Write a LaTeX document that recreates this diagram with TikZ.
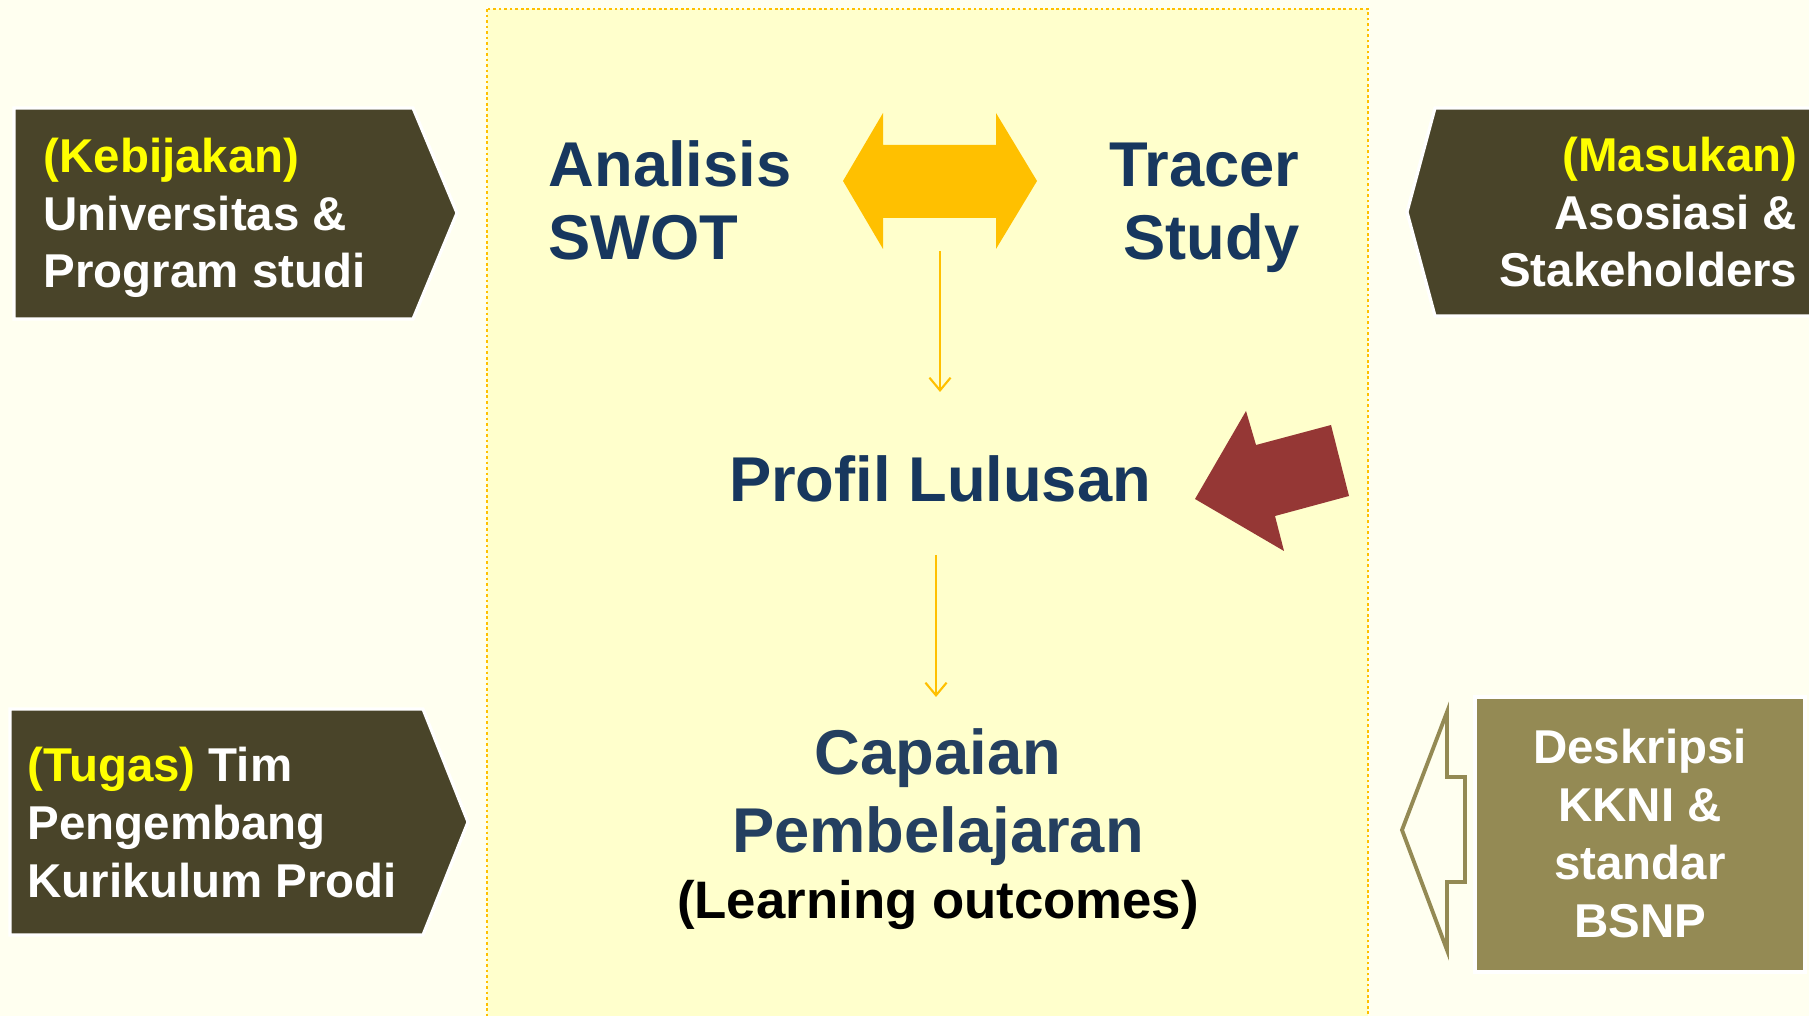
\documentclass[tikz,border=0pt]{standalone}
\usepackage{fontspec}
\setmainfont{Liberation Sans}
\usetikzlibrary{arrows.meta}
\usetikzlibrary{positioning}
\definecolor{ivory}{HTML}{FFFFF0}
\definecolor{panel}{HTML}{FFFFCC}
\definecolor{gold}{HTML}{FFC000}
\definecolor{olivedark}{HTML}{494429}
\definecolor{tan}{HTML}{948A54}
\definecolor{brick}{HTML}{953735}
\definecolor{navy}{HTML}{17375E}
\definecolor{softnavy}{HTML}{243F60}
\definecolor{hilite}{HTML}{FFFF00}
\tikzset{
  signbox/.style = {fill=olivedark, draw=white, line width=0.9pt},
  boxtext/.style = {text=white, inner sep=0pt,
    font=\bfseries\fontsize{13.5}{16.4}\selectfont},
  bigtext/.style = {text=navy, inner sep=0pt,
    font=\bfseries\fontsize{18}{21}\selectfont},
  flow/.style = {draw=gold, line width=0.6pt,
    -{Straight Barb[length=3.6pt,width=6pt]}},
}

\begin{document}
\begin{tikzpicture}[x=0.01cm, y=-0.01cm]
    \useasboundingbox (0,0) rectangle (1809,1016);
    \fill[ivory] (0,0) rectangle (1809,1016);
    \draw[gold, fill=panel, line width=0.77pt, dash pattern=on 0.77pt off 0.8pt]
      (487,9) rectangle (1368,1040);

    \draw[signbox] (14,108) -- (413,108) -- (457,213) -- (413,319) -- (14,319) -- cycle;
    \draw[signbox] (1435,108) -- (1830,108) -- (1830,316) -- (1435,316) -- (1407,212) -- cycle;
    \draw[signbox] (10,709) -- (423,709) -- (468,822) -- (423,935) -- (10,935) -- cycle;
    \draw[signbox, fill=tan] (1475,697) rectangle (1805,972);

    \node [boxtext, anchor=base west, align=left] (kebijakan) at (43,288)
      {{\color{hilite}(Kebijakan)}\\Universitas \&\\Program studi};
    \node [boxtext, anchor=base east, align=right] (masukan) at (1798,287)
      {{\color{hilite}(Masukan)}\\Asosiasi \&\\Stakeholders};
    \node [boxtext, anchor=base west, align=left] (tugas) at (27,897)
      {{\color{hilite}(Tugas)} Tim\\Pengembang\\Kurikulum Prodi};
    \node [boxtext, anchor=base, align=center] (kkni) at (1640,937)
      {Deskripsi\\KKNI \&\\standar\\BSNP};

    \node [bigtext, anchor=base west, align=left] (swot) at (548,260) {Analisis\\SWOT};
    \node [bigtext, anchor=base east, align=right] (tracer) at (1300,260) {Tracer\\Study};
    \node [bigtext, anchor=base] (profil) at (940,502) {Profil Lulusan};
    \node [bigtext, text=softnavy, anchor=base, align=center,
      font=\bfseries\fontsize{18}{21.9}\selectfont]
      (capaian) at (938,852) {Capaian\\Pembelajaran};
    \node [anchor=base, inner sep=0pt, font=\bfseries\fontsize{15}{17}\selectfont]
      (outcomes) at (938,918) {(Learning outcomes)};

    \fill[gold] (843,181) -- (883,113) -- (883,145) -- (996,145) -- (996,113) -- (1037,181)
      -- (996,249) -- (996,218) -- (883,218) -- (883,249) -- cycle;
    \fill[brick] (1195,499) -- (1246,411) -- (1256,445) -- (1331,425) -- (1349,496)
      -- (1275,516) -- (1284,551) -- cycle;
    \draw[tan, line width=1.1pt] (1402,830) -- (1447,712) -- (1447,777) -- (1465,777)
      -- (1465,882) -- (1447,882) -- (1447,950) -- cycle;

    \coordinate (swap) at (940,251);
    \coordinate (toprofil) at (940,392);
    \coordinate (fromprofil) at (936,555);
    \coordinate (tocapaian) at (936,697);
    \draw[flow] (swap) -- (toprofil);
    \draw[flow] (fromprofil) -- (tocapaian);
  \end{tikzpicture}
\end{document}
